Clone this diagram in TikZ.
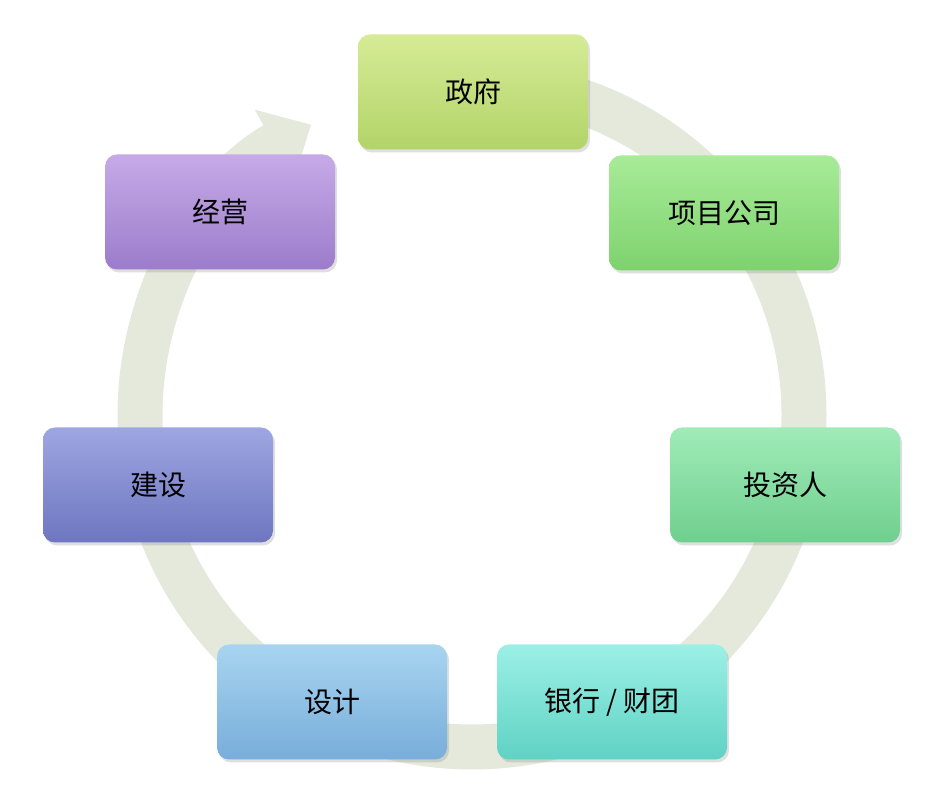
\documentclass[tikz,border=0pt]{standalone}
\usepackage{fontspec}
\newfontfamily\cjk{Noto Sans CJK SC}
\usetikzlibrary{arrows.meta,shadows}
\definecolor{ringc}{HTML}{E4E9DC}
\definecolor{a1}{HTML}{D6EB96}\definecolor{a2}{HTML}{B2D468}
\definecolor{b1}{HTML}{A8EB98}\definecolor{b2}{HTML}{7ED26E}
\definecolor{c1}{HTML}{A0EBB8}\definecolor{c2}{HTML}{6FCF8E}
\definecolor{d1}{HTML}{9CF0E6}\definecolor{d2}{HTML}{5FD2C4}
\definecolor{e1}{HTML}{A8D4F0}\definecolor{e2}{HTML}{78AEDA}
\definecolor{f1}{HTML}{9EA6E2}\definecolor{f2}{HTML}{6E76C0}
\definecolor{g1}{HTML}{C6AAE8}\definecolor{g2}{HTML}{9C7CCB}
\tikzset{
  box/.style={rounded corners=12pt, minimum width=230pt, minimum height=115pt,
    font=\cjk\fontsize{28}{30}\selectfont, text=black, inner sep=0pt,
    drop shadow={shadow xshift=2pt,shadow yshift=-3pt,opacity=0.25}},
  bx/.style 2 args={box, top color=#1, bottom color=#2, draw=none}
}
\begin{document}
\begin{tikzpicture}[x=1pt,y=1pt]
\useasboundingbox (0,0) rectangle (942,792);
\fill[white] (0,0) rectangle (942,792);
\coordinate (c) at (472,377);
\draw[ringc, line width=45pt, -{Triangle[length=42pt,width=78pt]}]
  ([shift={(90:332)}]c) arc[start angle=90, end angle=-241, radius=332];
\node[bx={a1}{a2}] (gov) at (473,700) {政府};
\node[bx={b1}{b2}] (proj) at (724,579) {项目公司};
\node[bx={c1}{c2}] (inv) at (785,307) {投资人};
\node[bx={d1}{d2}] (bank) at (612,90) {银行 / 财团};
\node[bx={e1}{e2}] (des) at (332,90) {设计};
\node[bx={f1}{f2}] (build) at (158,307) {建设};
\node[bx={g1}{g2}] (op) at (220,580) {经营};
\end{tikzpicture}
\end{document}
